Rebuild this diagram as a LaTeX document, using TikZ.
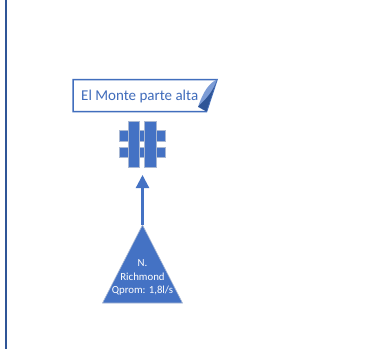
\documentclass[tikz,border=0pt]{standalone}
\usepackage{fontspec}
\setmainfont{Carlito}
\usetikzlibrary{arrows.meta}
\definecolor{accent}{HTML}{4472C4}
\definecolor{deep}{HTML}{2F5597}
\definecolor{edgelight}{HTML}{A9B8D3}
\tikzset{
  x=1pt,y=-1pt,
  barpart/.style={fill=accent,draw=edgelight,line width=0.9pt},
  slot/.style={inner sep=0pt,minimum width=#1,minimum height=#1},
  flow/.style={draw=accent,line width=2.2pt,-{Triangle[length=13pt,width=13pt]}},
  boxlabel/.style={text=accent!80!deep,font=\fontsize{15}{17}\selectfont,inner sep=0pt,anchor=base west},
  trilabel/.style={text=white,font=\fontsize{10.8}{13.4}\selectfont,align=center,inner sep=0pt}
}
\begin{document}
\begin{tikzpicture}
\useasboundingbox (0,0) rectangle (387,349);
\fill[white] (0,0) rectangle (387,349);
% left rule
\coordinate (ruletop) at (6,0);
\coordinate (rulebot) at (6,349);
\draw[deep,line width=1.3pt] (ruletop) -- (rulebot);
% banner
\path[fill=white,draw=accent!85!deep,line width=1.5pt] (73,79.5) -- (217,79.5) -- (206.5,111.5) -- (73,111.5) -- cycle;
\fill[accent!70] (217,79.5) .. controls (209,83) and (203,92) .. (198,107) -- (206.5,111.5) -- cycle;
\fill[deep] (217,79.5) .. controls (213,92) and (206,99) .. (198,106.5) -- (206.5,111.5) -- cycle;
\node[boxlabel] (banner) at (81,100.5) {El Monte parte alta};
% hash symbol
\filldraw[barpart] (119,130.5) rectangle (128,141);
\filldraw[barpart] (139,130.5) rectangle (144,141);
\filldraw[barpart] (156,130.5) rectangle (165,141);
\filldraw[barpart] (119,147) rectangle (128,157);
\filldraw[barpart] (139,147) rectangle (144,157);
\filldraw[barpart] (156,147) rectangle (165,157);
\filldraw[barpart] (128,121) rectangle (139,167);
\filldraw[barpart] (144,121) rectangle (156,167);
\node[slot=1pt] (hash) at (142,175) {};
% triangle
\fill[accent,draw=edgelight,line width=0.6pt] (142.5,225) -- (182.5,303) -- (102.5,303) -- cycle;
\coordinate (apex) at (142.5,225);
\node[trilabel] (tri) at (142.5,277.5) {N.\\Richmond\\Qprom: 1,8l/s};
% connector
\draw[flow] (apex) -- (apex |- hash.center);
\end{tikzpicture}
\end{document}
